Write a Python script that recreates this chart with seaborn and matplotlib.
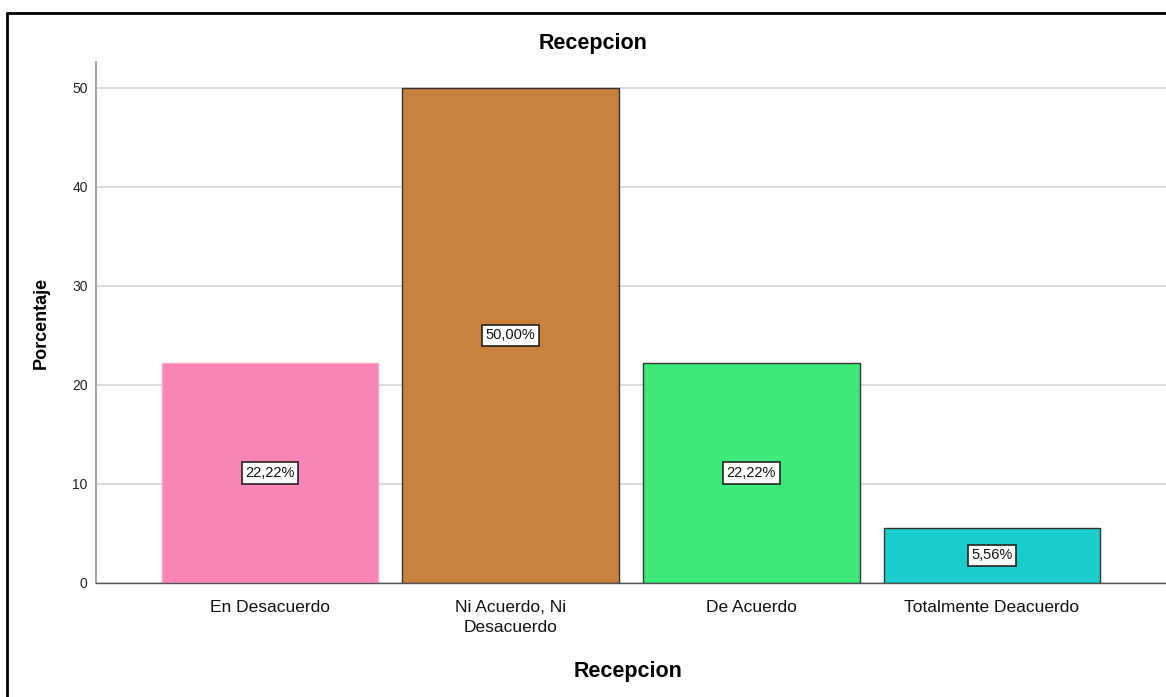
import pandas as pd
import matplotlib.pyplot as plt
import seaborn as sns
from matplotlib.lines import Line2D

categorias = ['En Desacuerdo', 'Ni Acuerdo, Ni\nDesacuerdo', 'De Acuerdo', 'Totalmente Deacuerdo']
porcentajes = [22.22, 50.00, 22.22, 5.56]
etiquetas = ['22,22%', '50,00%', '22,22%', '5,56%']
colores = ['#F984B5', '#C7813C', '#3DE97B', '#1CCDCD']
bordes = ['#F8A3C8', '#333333', '#333333', '#333333']

df = pd.DataFrame({'categoria': categorias, 'porcentaje': porcentajes})

sns.set_style('white')
plt.rcParams['font.family'] = ['Liberation Sans', 'DejaVu Sans']
plt.rcParams['text.color'] = 'black'

fig = plt.figure(figsize=(11.66, 6.97), dpi=100)
ax = fig.add_axes([96 / 1166, 1 - 583 / 697, 1070 / 1166, 521 / 697])

sns.barplot(data=df, x='categoria', y='porcentaje', hue='categoria',
            palette=colores, width=0.9, legend=False, ax=ax, saturation=1)

for patch, ec in zip(ax.patches, bordes):
    patch.set_edgecolor(ec)
    patch.set_linewidth(1.0)

for i, (v, txt) in enumerate(zip(porcentajes, etiquetas)):
    ax.text(i, v / 2, txt, ha='center', va='center', fontsize=10.5, color='#111111',
            bbox=dict(boxstyle='square,pad=0.25', fc='white', ec='#222222', lw=1.2))

ax.set_xlim(-0.723, 3.723)
ax.set_ylim(0, 52.6)
ax.set_yticks([0, 10, 20, 30, 40, 50])
ax.yaxis.grid(True, color='#d6d6d6', linewidth=1.2)
ax.set_axisbelow(True)

for s in ['top', 'right']:
    ax.spines[s].set_visible(False)
ax.spines['left'].set_color('#a6a6a6')
ax.spines['left'].set_linewidth(1.5)
ax.spines['bottom'].set_color('#555555')
ax.spines['bottom'].set_linewidth(1.0)

ax.tick_params(axis='y', length=0, pad=6, labelsize=10, labelcolor='#222222')
ax.tick_params(axis='x', length=0, pad=12)
for lbl in ax.get_xticklabels():
    lbl.set_fontsize(12.5)
    lbl.set_color('#111111')
    lbl.set_linespacing(1.45)

ax.set_xlabel('')
ax.set_ylabel('Porcentaje', fontsize=13, fontweight='bold', labelpad=16, color='black')
fig.text(628 / 1166, 1 - 671 / 697, 'Recepcion', ha='center', va='center',
         fontsize=15.5, fontweight='bold', color='black')
fig.text(593 / 1166, 1 - 44 / 697, 'Recepcion', ha='center', va='center',
         fontsize=15.5, fontweight='bold', color='black')

# marco exterior
fig.add_artist(Line2D([7 / 1166, 1], [1 - 13 / 697, 1 - 13 / 697], color='black', lw=2, transform=fig.transFigure))
fig.add_artist(Line2D([7 / 1166, 7 / 1166], [0, 1 - 13 / 697], color='black', lw=2, transform=fig.transFigure))

fig.savefig('out.png', dpi=100)
